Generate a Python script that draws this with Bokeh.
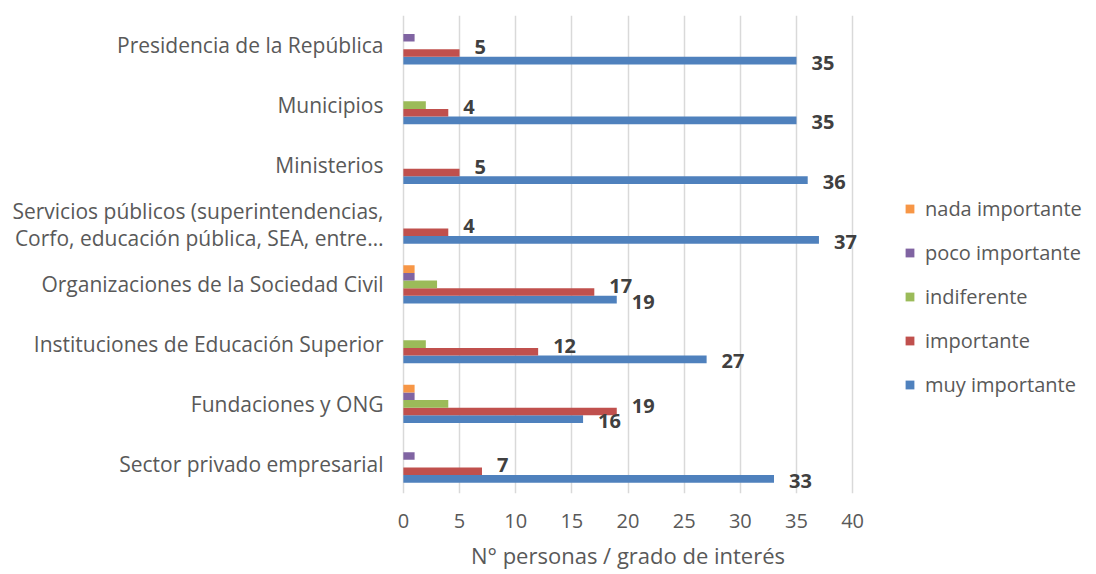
from bokeh.plotting import figure
from bokeh.models import ColumnDataSource, FactorRange, Range1d, Legend, LegendItem
from bokeh.transform import dodge
from bokeh.core.properties import value
from bokeh.embed import file_html
from bokeh.resources import INLINE

categories = [
    "Presidencia de la República",
    "Municipios",
    "Ministerios",
    "Servicios públicos (superintendencias,\nCorfo, educación pública, SEA, entre…",
    "Organizaciones de la Sociedad Civil",
    "Instituciones de Educación Superior",
    "Fundaciones y ONG",
    "Sector privado empresarial",
]
muy_importante = [35, 35, 36, 37, 19, 27, 16, 33]
importante = [5, 4, 5, 4, 17, 12, 19, 7]
indiferente = [0, 2, 0, 0, 3, 2, 4, 0]
poco_importante = [1, 0, 0, 0, 1, 0, 1, 1]
nada_importante = [0, 0, 0, 0, 1, 0, 1, 0]
series_names = ["nada importante", "poco importante", "indiferente", "importante", "muy importante"]
x_ticks = [0, 5, 10, 15, 20, 25, 30, 35, 40]

FONT = "Open Sans"
src = ColumnDataSource(dict(
    cat=categories, muy=muy_importante, imp=importante, ind=indiferente,
    poco=poco_importante, nada=nada_importante,
    muy_lbl=[str(v) for v in muy_importante], imp_lbl=[str(v) for v in importante],
))

# frame padded a little on both sides of 0..40 so outside-end labels are not clipped
p = figure(
    frame_width=465, frame_height=478, output_backend="svg", toolbar_location=None,
    y_range=FactorRange(factors=list(reversed(categories))),
    x_range=Range1d(-0.7, 40.7),
    min_border_left=395, min_border_right=0, min_border_top=15, min_border_bottom=0,
)
p.outline_line_color = None
p.background_fill_color = "white"

h = 0.128
specs = [
    ("muy", -2 * h, "#4F81BD", "muy importante"),
    ("imp", -1 * h, "#C0504D", "importante"),
    ("ind", 0.0, "#9BBB59", "indiferente"),
    ("poco", 1 * h, "#8064A2", "poco importante"),
    ("nada", 2 * h, "#F79646", "nada importante"),
]
renderers = {}
for col, off, color, name in specs:
    r = p.hbar(y=dodge("cat", off, range=p.y_range), right=col, left=0, height=h,
               source=src, fill_color=color, line_color=None)
    renderers[name] = r

lbl_color = "#404040"
p.text(x="muy", y=dodge("cat", -2 * h, range=p.y_range), text="muy_lbl", source=src,
       x_offset=15, y_offset=2, text_align="left", text_baseline="middle",
       text_font=value(FONT), text_font_size="20px", text_font_style="bold", text_color=lbl_color)
p.text(x="imp", y=dodge("cat", -1 * h, range=p.y_range), text="imp_lbl", source=src,
       x_offset=15, y_offset=-6, text_align="left", text_baseline="middle",
       text_font=value(FONT), text_font_size="20px", text_font_style="bold", text_color=lbl_color)

# axes
p.xaxis.ticker = x_ticks
p.xaxis.axis_line_color = None
p.xaxis.major_tick_line_color = None
p.xaxis.minor_tick_line_color = None
p.xaxis.major_label_text_font = FONT
p.xaxis.major_label_text_font_size = "20px"
p.xaxis.major_label_text_color = "#595959"
p.xaxis.major_label_standoff = 14
p.xaxis.axis_label = "N° personas / grado de interés"
p.xaxis.axis_label_text_font = FONT
p.xaxis.axis_label_text_font_size = "22px"
p.xaxis.axis_label_text_font_style = "normal"
p.xaxis.axis_label_text_color = "#595959"
p.xaxis.axis_label_standoff = 9

p.yaxis.axis_line_color = None
p.yaxis.major_tick_line_color = None
p.yaxis.minor_tick_line_color = None
p.yaxis.major_label_text_font = FONT
p.yaxis.major_label_text_font_size = "21px"
p.yaxis.major_label_text_color = "#595959"
p.yaxis.major_label_text_line_height = 0.98
p.yaxis.major_label_standoff = 6

p.xgrid.grid_line_color = "#D9D9D9"
p.xgrid.grid_line_width = 1.5
p.ygrid.grid_line_color = None

legend = Legend(
    items=[LegendItem(label=n, renderers=[renderers[n]]) for n in series_names],
    location=(44, 95), orientation="vertical",
    label_text_font=FONT, label_text_font_size="20px", label_text_color="#595959",
    glyph_width=11, glyph_height=11, label_height=20, spacing=17,
    padding=0, margin=0, border_line_color=None, background_fill_alpha=0,
    label_standoff=10,
)
p.add_layout(legend, "right")

open("out.html", "w").write(file_html(p, INLINE))
